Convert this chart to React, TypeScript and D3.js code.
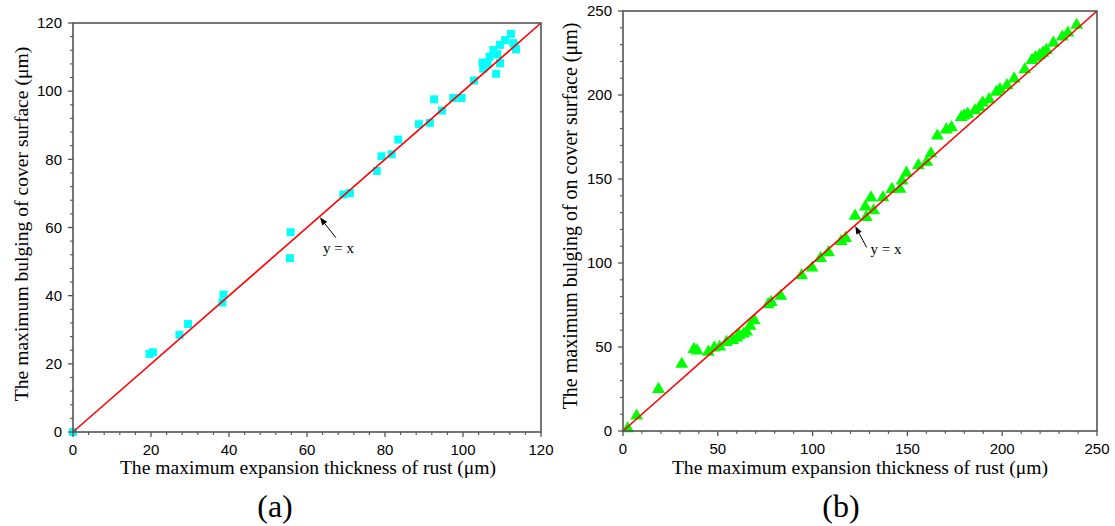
import React from "react";
import * as d3 from "d3";

// ---- data: panel (a) ----
const aTicks = [0, 20, 40, 60, 80, 100, 120];
const aMinorStep = 4;
const aPoints: [number, number][] = [
  [0, 0], [19.6, 22.9], [20.5, 23.4], [27.3, 28.5], [29.5, 31.7], [38.3, 38.0], [38.6, 40.3],
  [55.6, 51.0], [55.8, 58.6], [69.3, 69.7], [71.0, 70.1], [77.9, 76.6], [79.1, 80.9],
  [81.7, 81.5], [83.4, 85.8], [88.7, 90.3], [91.5, 90.7], [92.6, 97.6], [94.6, 94.3],
  [97.5, 98.0], [99.6, 98.0], [102.8, 103.1], [105.0, 108.4], [105.2, 106.6], [106.3, 107.8],
  [106.8, 110.1], [107.8, 112.1], [108.5, 105.1], [108.8, 110.8], [109.5, 108.2],
  [109.5, 113.6], [110.8, 115.0], [112.3, 116.8], [112.9, 114.1], [113.6, 112.3], [113.2, 113.5],
];
// ---- data: panel (b) ----
const bTicks = [0, 50, 100, 150, 200, 250];
const bMinorStep = 10;
const bPoints: [number, number][] = [
  [2.5, 1.5], [7.2, 9.0], [18.7, 24.9], [31.0, 39.8], [37.4, 48.7], [39.1, 47.8], [45.0, 47.0],
  [48.2, 49.6], [51.0, 50.1], [54.6, 52.8], [57.8, 54.0], [60.0, 55.5], [61.2, 57.0],
  [63.6, 57.8], [65.2, 59.0], [67.0, 62.5], [69.2, 65.8], [76.6, 75.3], [78.2, 76.6],
  [83.2, 80.3], [94.2, 92.6], [99.7, 97.1], [104.2, 102.8], [108.4, 106.3], [115.1, 112.9],
  [117.4, 114.7], [122.4, 128.0], [127.8, 133.5], [128.3, 127.2], [130.8, 138.8],
  [132.2, 131.2], [137.1, 138.9], [141.8, 143.9], [146.1, 144.0], [147.2, 148.9],
  [149.5, 153.6], [155.8, 158.0], [160.2, 160.1], [162.4, 165.1], [165.8, 175.7],
  [170.5, 179.3], [173.3, 180.7], [178.4, 186.7], [179.9, 187.7], [181.8, 188.7],
  [185.6, 190.7], [188.0, 192.7], [189.7, 195.4], [193.1, 197.3], [196.9, 201.7],
  [198.8, 203.3], [202.5, 205.7], [206.3, 209.7], [211.9, 215.1], [215.7, 220.7],
  [217.6, 222.3], [219.7, 223.6], [221.4, 225.0], [223.3, 226.6], [227.0, 231.0],
  [231.7, 234.6], [234.6, 237.0], [239.3, 241.6],
];

const xTitle = "The maximum expansion thickness of rust (\u03bcm)";
const aYTitle = "The maximum bulging of cover surface (\u03bcm)";
const bYTitle = "The maximum bulging of on cover surface (\u03bcm)";
const lineLabel = "y = x";

type PanelProps = {
  max: number;
  ticks: number[];
  minorStep: number;
  points: [number, number][];
  xr: [number, number];
  yr: [number, number];
  yTitle: string;
  yTitleX: number;
  yTitleY: number;
  yTitleSize: number;
  xTitleX: number;
  caption: string;
  captionX: number;
  arrow: { tip: [number, number]; tail: [number, number]; text: [number, number] };
  marker: "square" | "triangle";
  color: string;
};

const AXIS = "#555";
const SANS = "'Liberation Sans', Arial, sans-serif";
const SERIF = "'Liberation Serif', 'Times New Roman', serif";

function Panel(p: PanelProps) {
  const x = d3.scaleLinear().domain([0, p.max]).range(p.xr);
  const y = d3.scaleLinear().domain([0, p.max]).range(p.yr);
  const minors = d3.range(0, p.max + 0.001, p.minorStep).filter((v) => !p.ticks.includes(v));
  const sym =
    p.marker === "square"
      ? d3.symbol().type(d3.symbolSquare).size(64)()
      : d3.symbol().type(d3.symbolTriangle).size(72)();
  const tip = [x(p.arrow.tip[0]), y(p.arrow.tip[1])];
  const tail = [x(p.arrow.tail[0]), y(p.arrow.tail[1])];
  const ang = Math.atan2(tip[1] - tail[1], tip[0] - tail[0]);
  const hl = 8, hw = 3;
  const b = [tip[0] - hl * Math.cos(ang), tip[1] - hl * Math.sin(ang)];
  const head = [
    tip,
    [b[0] + hw * Math.sin(ang), b[1] - hw * Math.cos(ang)],
    [b[0] - hw * Math.sin(ang), b[1] + hw * Math.cos(ang)],
  ];
  return (
    <g>
      {p.points.map((d, i) => (
        <path key={i} d={sym!} transform={`translate(${x(d[0])},${y(d[1])})`} fill={p.color} />
      ))}
      <line x1={x(0)} y1={y(0)} x2={x(p.max)} y2={y(p.max)} stroke="#ff0000" strokeWidth={1.6} />
      <rect
        x={p.xr[0]}
        y={p.yr[1]}
        width={p.xr[1] - p.xr[0]}
        height={p.yr[0] - p.yr[1]}
        fill="none"
        stroke={AXIS}
        strokeWidth={1.6}
      />
      {p.ticks.map((t) => (
        <g key={"x" + t}>
          <line x1={x(t)} x2={x(t)} y1={p.yr[0]} y2={p.yr[0] + 5} stroke={AXIS} strokeWidth={1.3} />
          <text x={x(t)} y={p.yr[0] + 23} textAnchor="middle" fontFamily={SANS} fontSize={15} fill="#000">
            {t}
          </text>
        </g>
      ))}
      {minors.map((t) => (
        <line key={"xm" + t} x1={x(t)} x2={x(t)} y1={p.yr[0]} y2={p.yr[0] + 3} stroke={AXIS} strokeWidth={1.1} />
      ))}
      {p.ticks.map((t) => (
        <g key={"y" + t}>
          <line x1={p.xr[0] - 5} x2={p.xr[0]} y1={y(t)} y2={y(t)} stroke={AXIS} strokeWidth={1.3} />
          <text x={p.xr[0] - 11} y={y(t) + 5.3} textAnchor="end" fontFamily={SANS} fontSize={15} fill="#000">
            {t}
          </text>
        </g>
      ))}
      {minors.map((t) => (
        <line key={"ym" + t} x1={p.xr[0] - 3} x2={p.xr[0]} y1={y(t)} y2={y(t)} stroke={AXIS} strokeWidth={1.1} />
      ))}
      <text x={p.xTitleX} y={474} textAnchor="middle" fontFamily={SERIF} fontSize={19.6} fill="#000">
        {xTitle}
      </text>
      <text
        transform={`translate(${p.yTitleX},${p.yTitleY}) rotate(-90)`}
        textAnchor="middle"
        fontFamily={SERIF}
        fontSize={p.yTitleSize}
        fill="#000"
      >
        {p.yTitle}
      </text>
      <line x1={tail[0]} y1={tail[1]} x2={b[0]} y2={b[1]} stroke="#000" strokeWidth={1} />
      <path d={`M${head.map((q) => q.join(",")).join("L")}Z`} fill="#000" />
      <text x={x(p.arrow.text[0])} y={y(p.arrow.text[1])} fontFamily={SERIF} fontSize={15} fill="#000">
        {lineLabel}
      </text>
      <text x={p.captionX} y={517} textAnchor="middle" fontFamily={SERIF} fontSize={32} fill="#000">
        {p.caption}
      </text>
    </g>
  );
}

export default function App() {
  return (
    <svg
      width={1115}
      height={526}
      style={{ position: "absolute", left: 0, top: 0, background: "#fff" }}
    >
      <rect width={1115} height={526} fill="#fff" />
      <Panel
        max={120}
        ticks={aTicks}
        minorStep={aMinorStep}
        points={aPoints}
        xr={[73, 541]}
        yr={[432, 23]}
        yTitle={aYTitle}
        yTitleX={28}
        yTitleY={224}
        yTitleSize={19.6}
        xTitleX={308}
        caption="(a)"
        captionX={275}
        arrow={{ tip: [63.3, 63.0], tail: [67.4, 57.0], text: [64.1, 52.4] }}
        marker="square"
        color="#00ffff"
      />
      <Panel
        max={250}
        ticks={bTicks}
        minorStep={bMinorStep}
        points={bPoints}
        xr={[623, 1097]}
        yr={[431, 11]}
        yTitle={bYTitle}
        yTitleX={577}
        yTitleY={216}
        yTitleSize={20}
        xTitleX={860}
        caption="(b)"
        captionX={841}
        arrow={{ tip: [122.5, 122.0], tail: [128.5, 109.3], text: [130.5, 105.5] }}
        marker="triangle"
        color="#00ff00"
      />
    </svg>
  );
}
